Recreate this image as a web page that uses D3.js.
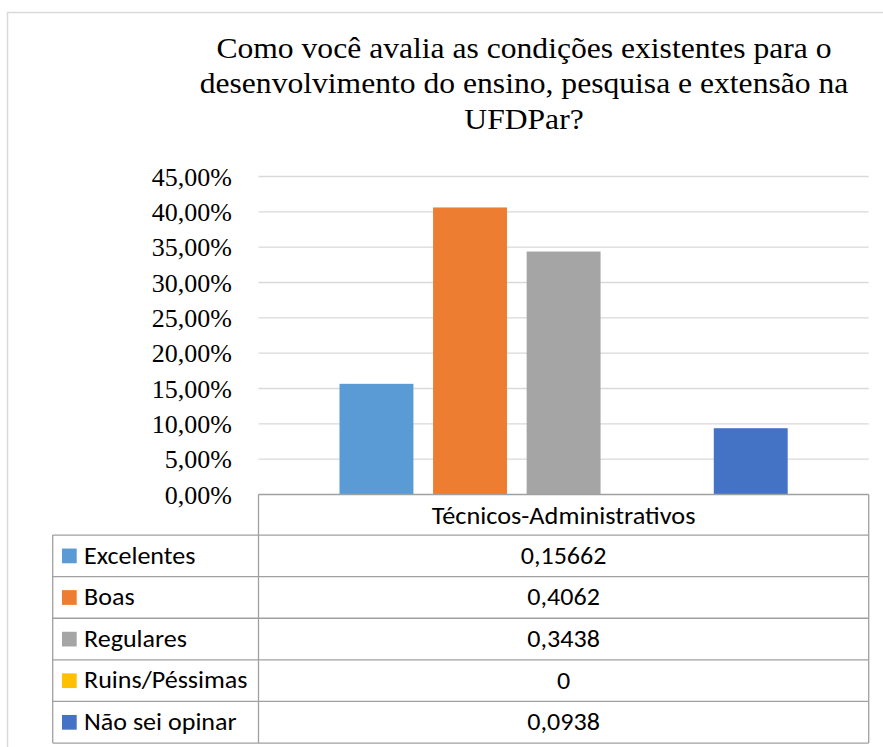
<!DOCTYPE html>
<html>
<head>
<meta charset="utf-8">
<script src="https://cdn.jsdelivr.net/npm/d3@7"></script>
<style>
  html, body { margin: 0; padding: 0; background: #fff; }
  svg { display: block; }
</style>
</head>
<body>
<svg id="chart" width="883" height="747"></svg>
<script>
// ---- data ----
const titleLines = [
  "Como você avalia as condições existentes para o",
  "desenvolvimento do ensino, pesquisa e extensão na",
  "UFDPar?"
];
const categories = ["Técnicos-Administrativos"];
const seriesNames = ["Excelentes", "Boas", "Regulares", "Ruins/Péssimas", "Não sei opinar"];
const seriesValues = [0.15662, 0.4062, 0.3438, 0, 0.0938];
const tableLabels = ["0,15662", "0,4062", "0,3438", "0", "0,0938"];
const seriesColors = ["#5B9BD5", "#ED7D31", "#A5A5A5", "#FFC000", "#4472C4"];
const yTicks = [0, 0.05, 0.10, 0.15, 0.20, 0.25, 0.30, 0.35, 0.40, 0.45];

// ---- layout ----
const svg = d3.select("#chart");
const plotLeft = 258.5, plotRight = 868.7, plotTop = 176.5, plotBottom = 494.5;
const tableLeft = 52.7, rowH = 41.6;
const serif = '"Liberation Serif"';
const sans = '"Carlito"';
const tSx = 1.06;   // slight horizontal stretch seen in the reference

const locale = d3.formatLocale({decimal: ",", thousands: ".", grouping: [3], currency: ["R$", ""]});
const fmt = locale.format(".2%");

// outer chart border
svg.append("rect")
  .attr("x", 7.5).attr("y", 12.5).attr("width", 1000).attr("height", 1000)
  .attr("fill", "none").attr("stroke", "#d9d9d9").attr("stroke-width", 1.5);

// title
const tg = svg.append("g").attr("transform", "translate(524,0) scale(1.09,1)");
tg.selectAll("text").data(titleLines).join("text")
  .attr("x", 0).attr("y", (d, i) => 58.3 + i * 35.2)
  .attr("text-anchor", "middle")
  .style("font-family", serif).style("font-size", "29px").attr("fill", "#000")
  .text(d => d);

// scales
const y = d3.scaleLinear().domain([0, 0.45]).range([plotBottom, plotTop]);
const x0 = d3.scaleBand().domain(categories).range([plotLeft, plotRight]).padding(0);
const groupPad = 81;

// gridlines
svg.append("g").selectAll("line").data(yTicks.filter(t => t > 0)).join("line")
  .attr("x1", plotLeft).attr("x2", plotRight)
  .attr("y1", d => y(d)).attr("y2", d => y(d))
  .attr("stroke", "#d9d9d9").attr("stroke-width", 1.4);

// y axis labels
const yAxis = d3.axisLeft(y).tickValues(yTicks).tickFormat(fmt).tickSize(0).tickPadding(0);
const ya = svg.append("g").attr("transform", "translate(232,0)").call(yAxis);
ya.select(".domain").remove();
ya.attr("font-family", null).attr("font-size", null);
ya.selectAll("text")
  .attr("x", 0)
  .style("font-family", serif).style("font-size", "25px").attr("fill", "#000")
  .attr("dy", "0.34em")
  .attr("transform", "scale(1.04,1)");

// bars
categories.forEach(cat => {
  const bx = x0(cat);
  const xs = d3.scaleBand().domain(seriesNames)
    .range([bx + groupPad, bx + x0.bandwidth() - groupPad]).paddingInner(0.21);
  svg.append("g").selectAll("rect").data(seriesNames).join("rect")
    .attr("x", d => xs(d))
    .attr("width", xs.bandwidth())
    .attr("y", (d, i) => y(seriesValues[i]))
    .attr("height", (d, i) => y(0) - y(seriesValues[i]))
    .attr("fill", (d, i) => seriesColors[i]);
});

// data table
const lineColor = "#a0a0a0";
const tbl = svg.append("g");
const rowsTop = plotBottom + rowH * 0.975;
const tableBottom = rowsTop + rowH * seriesNames.length;

tbl.append("line").attr("x1", plotLeft).attr("x2", plotRight).attr("y1", plotBottom).attr("y2", plotBottom)
  .attr("stroke", lineColor).attr("stroke-width", 1.5);
tbl.append("line").attr("x1", plotLeft).attr("x2", plotLeft).attr("y1", plotBottom).attr("y2", tableBottom)
  .attr("stroke", lineColor).attr("stroke-width", 1.3);
tbl.append("line").attr("x1", plotRight).attr("x2", plotRight).attr("y1", plotBottom).attr("y2", tableBottom)
  .attr("stroke", lineColor).attr("stroke-width", 1.3);
tbl.append("line").attr("x1", tableLeft).attr("x2", tableLeft).attr("y1", rowsTop).attr("y2", tableBottom)
  .attr("stroke", lineColor).attr("stroke-width", 1.3);
tbl.selectAll("line.row").data(d3.range(seriesNames.length + 1)).join("line")
  .attr("class", "row")
  .attr("x1", tableLeft).attr("x2", plotRight)
  .attr("y1", i => rowsTop + i * rowH).attr("y2", i => rowsTop + i * rowH)
  .attr("stroke", lineColor).attr("stroke-width", 1.3);

function addText(g, x, yy, txt, anchor, size) {
  return g.append("text")
    .attr("transform", `translate(${x},${yy}) scale(${tSx},1)`)
    .attr("text-anchor", anchor)
    .style("font-family", sans).style("font-size", size + "px").attr("fill", "#000")
    .text(txt);
}

// header text
categories.forEach(cat => {
  addText(tbl, x0(cat) + x0.bandwidth() / 2, plotBottom + 29, cat, "middle", 24.8);
});

// legend keys and labels
seriesNames.forEach((name, i) => {
  const top = rowsTop + i * rowH;
  tbl.append("rect")
    .attr("x", 62).attr("y", top + 13.5).attr("width", 14.7).attr("height", 14.7)
    .attr("fill", seriesColors[i]);
  addText(tbl, 84, top + 28.5, name, "start", 24.6);
  addText(tbl, x0(categories[0]) + x0.bandwidth() / 2, top + 28.8, tableLabels[i], "middle", 24.6);
});
</script>
</body>
</html>
